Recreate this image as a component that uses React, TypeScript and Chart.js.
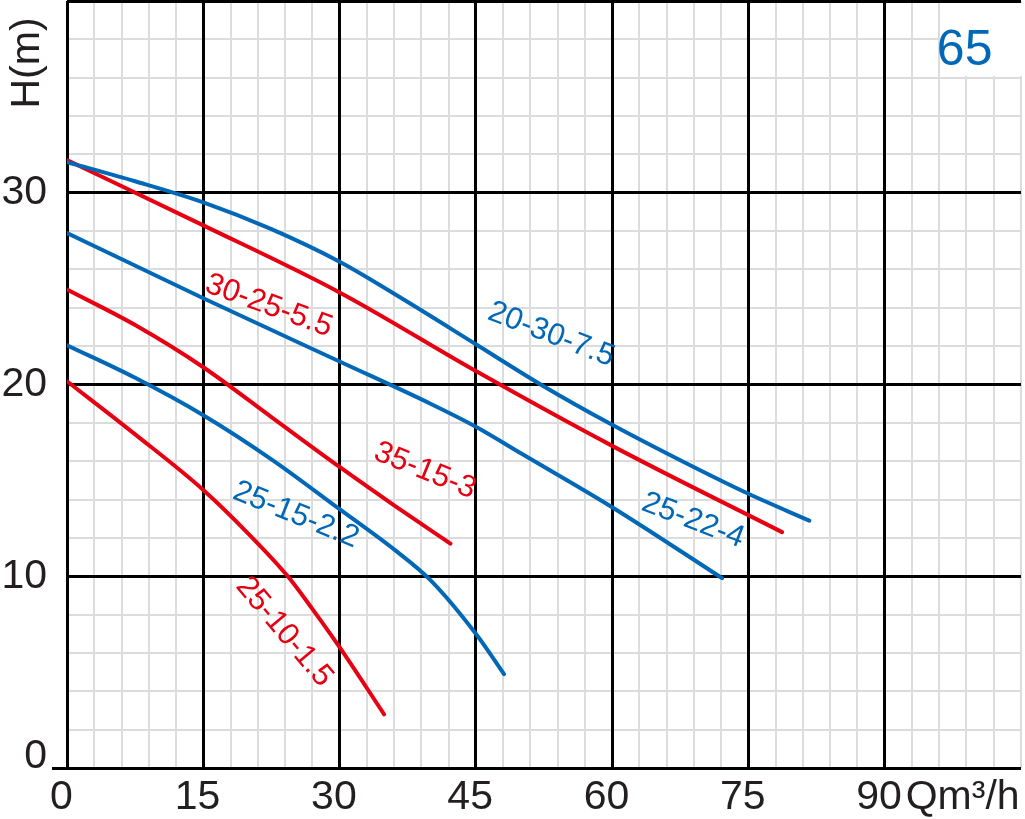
import React, { useEffect, useRef } from 'react';
import { Chart, registerables } from 'chart.js';

Chart.register(...registerables);

const BLUE = '#0068b7';
const RED = '#e60012';
const INK = '#231f20';
const FONT = "'Liberation Sans', Arial, Helvetica, sans-serif";

// Curve 20-30-7.5 (blue)
const q20_30_75 = [0, 7.5, 15, 22.5, 30, 37.5, 45, 52.5, 60, 67.5, 75, 81.7];
const h20_30_75 = [31.6, 30.6, 29.5, 28.1, 26.4, 24.3, 22.1, 19.9, 17.9, 16.05, 14.3, 12.9];

// Curve 30-25-5.5 (red)
const q30_25_55 = [0, 15, 30, 45, 60, 78.7];
const h30_25_55 = [31.7, 28.3, 24.8, 20.7, 16.8, 12.3];

// Curve 25-22-4 (blue)
const q25_22_4 = [0, 15, 30, 40, 45, 50, 60, 72.1];
const h25_22_4 = [27.9, 24.5, 21.2, 19.0, 17.8, 16.4, 13.6, 9.9];

// Curve 35-15-3 (red)
const q35_15_3 = [0, 7.5, 15, 22.5, 30, 36, 42.2];
const h35_15_3 = [24.95, 23.1, 20.9, 18.3, 15.7, 13.7, 11.7];

// Curve 25-15-2.2 (blue)
const q25_15_22 = [0, 7.5, 15, 22.5, 30, 36, 40, 45, 48.1];
const h25_15_22 = [22.05, 20.35, 18.4, 16.1, 13.5, 11.4, 9.8, 7.0, 4.9];

// Curve 25-10-1.5 (red)
const q25_10_15 = [0, 7.5, 15, 20, 24.3, 27, 30, 34.9];
const h25_10_15 = [20.17, 17.4, 14.5, 12.2, 10.0, 8.3, 6.3, 2.8];

const curveNames = ['20-30-7.5', '30-25-5.5', '25-22-4', '35-15-3', '25-15-2.2', '25-10-1.5'];
const curveColors = [BLUE, RED, BLUE, RED, BLUE, RED];
const curveQ = [q20_30_75, q30_25_55, q25_22_4, q35_15_3, q25_15_22, q25_10_15];
const curveH = [h20_30_75, h30_25_55, h25_22_4, h35_15_3, h25_15_22, h25_10_15];

// Curve label anchors (data units) and angles (degrees)
const labelQ = [53.3, 22.2, 68.9, 39.4, 25.2, 23.9];
const labelH = [22.6, 24.1, 12.9, 15.5, 13.2, 7.1];
const labelAngle = [21, 20, 21, 22, 22, 50];

const xMin = 0;
const xMax = 105;
const xMajorStep = 15;
const xMinorStep = 3;
const yMin = 0;
const yMax = 40;
const yMajorStep = 10;
const yMinorStep = 2;

const modelText = '65';
const yTitle = 'H(m)';
const xUnit = 'Qm³/h';

const overlayPlugin = {
  id: 'overlayTexts',
  beforeDatasetsDraw(chart: any) {
    const { ctx, chartArea, scales } = chart;
    const x = scales.x;
    const y = scales.y;
    ctx.save();
    ctx.fillStyle = '#ffffff';
    const left = x.getPixelForValue(96) + 1.5;
    const top = chartArea.top + 2;
    const bottom = y.getPixelForValue(36) - 1.5;
    ctx.fillRect(left, top, chartArea.right + 4 - left, bottom - top);
    ctx.restore();
  },
  afterDraw(chart: any) {
    const { ctx, chartArea, scales } = chart;
    const x = scales.x;
    const y = scales.y;
    ctx.save();
    // curve labels
    ctx.textAlign = 'center';
    ctx.textBaseline = 'middle';
    ctx.font = `31px ${FONT}`;
    for (let i = 0; i < curveNames.length; i++) {
      ctx.save();
      ctx.translate(x.getPixelForValue(labelQ[i]), y.getPixelForValue(labelH[i]));
      ctx.rotate((labelAngle[i] * Math.PI) / 180);
      ctx.fillStyle = curveColors[i];
      ctx.fillText(curveNames[i], 0, 0);
      ctx.restore();
    }
    // model number
    ctx.fillStyle = BLUE;
    ctx.font = `50px ${FONT}`;
    ctx.fillText(modelText, x.getPixelForValue(98.8), y.getPixelForValue(37.4));
    // y title
    ctx.save();
    ctx.fillStyle = INK;
    ctx.font = `41px ${FONT}`;
    ctx.translate(chartArea.left - 39, chartArea.top + 62);
    ctx.rotate(-Math.PI / 2);
    ctx.fillText(yTitle, 0, 0);
    ctx.restore();
    // x unit
    ctx.fillStyle = INK;
    ctx.font = `41px ${FONT}`;
    ctx.textAlign = 'left';
    ctx.fillText(xUnit, x.getPixelForValue(90) + 21, chartArea.bottom + 30);
    ctx.restore();
  },
};

export default function App() {
  const ref = useRef<HTMLCanvasElement | null>(null);

  useEffect(() => {
    if (!ref.current) return;
    const datasets = curveNames.map((name, i) => ({
      label: name,
      data: curveQ[i].map((q, j) => ({ x: q, y: curveH[i][j] })),
      borderColor: curveColors[i],
      backgroundColor: curveColors[i],
      borderWidth: 4,
      pointRadius: 0,
      fill: false,
      tension: 0.4,
      cubicInterpolationMode: 'monotone' as const,
      borderCapStyle: 'round' as const,
      xAxisID: 'x',
      yAxisID: 'y',
    }));

    const chart = new Chart(ref.current, {
      type: 'line',
      data: { datasets },
      plugins: [overlayPlugin],
      options: {
        animation: false,
        responsive: false,
        events: [],
        layout: { padding: { top: 1, right: 4, left: 0, bottom: 0 } },
        plugins: { legend: { display: false }, tooltip: { enabled: false }, title: { display: false } },
        scales: {
          xm: {
            type: 'linear',
            position: 'bottom',
            min: xMin,
            max: xMax,
            ticks: { display: false, stepSize: xMinorStep, autoSkip: false, maxTicksLimit: 200 },
            grid: { color: '#dcdcdc', lineWidth: 2, drawTicks: false, z: -2 },
            border: { display: false },
            afterFit: (s: any) => { s.height = 0; s.paddingLeft = 0; s.paddingRight = 0; },
          },
          ym: {
            type: 'linear',
            position: 'left',
            min: yMin,
            max: yMax,
            ticks: { display: false, stepSize: yMinorStep, autoSkip: false, maxTicksLimit: 200 },
            grid: { color: '#dcdcdc', lineWidth: 2, drawTicks: false, z: -2 },
            border: { display: false },
            afterFit: (s: any) => { s.width = 0; s.paddingTop = 0; s.paddingBottom = 0; },
          },
          x: {
            type: 'linear',
            position: 'bottom',
            min: xMin,
            max: xMax,
            ticks: {
              stepSize: xMajorStep,
              autoSkip: false,
              maxRotation: 0,
              minRotation: 0,
              padding: 5,
              color: INK,
              font: { family: FONT, size: 41, lineHeight: 1.2 },
              callback: (v: any) => (v === xMax ? '' : String(v) + ' '),
            },
            grid: {
              color: (c: any) => (c.tick && c.tick.value === xMax ? 'rgba(0,0,0,0)' : '#000000'),
              lineWidth: 3,
              drawTicks: false,
              z: -1,
            },
            border: { display: false },
            afterFit: (s: any) => { s.height = 51; s.paddingLeft = 0; s.paddingRight = 0; },
          },
          y: {
            type: 'linear',
            position: 'left',
            min: yMin,
            max: yMax,
            ticks: {
              stepSize: yMajorStep,
              autoSkip: false,
              padding: 5,
              color: INK,
              font: { family: FONT, size: 41, lineHeight: 0.56 },
              callback: (v: any) => (v === yMax ? '' : v === 0 ? ['0', ''] : String(v)),
            },
            grid: {
              color: '#000000',
              lineWidth: 3,
              drawTicks: true,
              tickLength: 15,
              tickColor: (c: any) => (c.tick && c.tick.value === 0 ? '#000000' : 'rgba(0,0,0,0)'),
              z: -1,
            },
            border: { display: false },
            afterFit: (s: any) => { s.width = 67; s.paddingTop = 0; s.paddingBottom = 0; },
          },
        },
      } as any,
    });
    return () => chart.destroy();
  }, []);

  return (
    <div style={{ position: 'absolute', left: 0, top: 0, width: 1025, height: 819, background: '#ffffff' }}>
      <canvas ref={ref} width={1025} height={819} style={{ display: 'block', width: 1025, height: 819 }} />
    </div>
  );
}
